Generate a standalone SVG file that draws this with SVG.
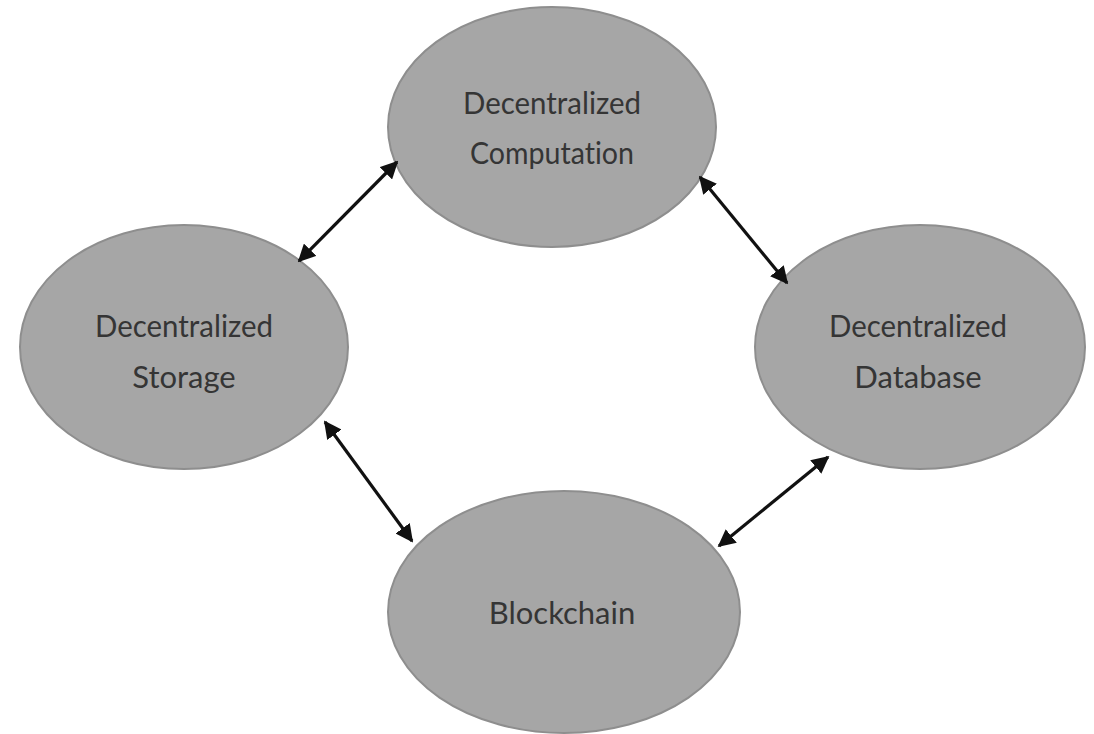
<svg xmlns="http://www.w3.org/2000/svg" width="1094" height="734" viewBox="0 0 1094 734">
  <style>
    .node ellipse { fill: #a6a6a6; stroke: #8e8e8e; stroke-width: 2; }
    .node text { font-family: "Lato", "Open Sans", "Liberation Sans", sans-serif; font-size: 31px; fill: #353535; text-anchor: middle; font-variant-ligatures: none; font-feature-settings: "liga" 0; }
    .link { stroke: #111; stroke-width: 3.2; fill: none; marker-start: url(#head); marker-end: url(#head); }
  </style>
  <defs>
    <marker id="head" viewBox="0 0 10 10" refX="9" refY="5" markerWidth="5.5" markerHeight="5.5" orient="auto-start-reverse" markerUnits="strokeWidth">
      <path d="M0,0 L10,5 L0,10 Z" fill="#111"/>
    </marker>
  </defs>
  <rect width="1094" height="734" fill="#ffffff"/>

  <g id="computation" class="node">
    <ellipse cx="552" cy="127" rx="164" ry="120"/>
    <text x="552" y="114" textLength="178" lengthAdjust="spacingAndGlyphs">Decentralized</text>
    <text x="552" y="164" textLength="164" lengthAdjust="spacingAndGlyphs">Computation</text>
  </g>

  <g id="storage" class="node">
    <ellipse cx="184" cy="347" rx="164" ry="122"/>
    <text x="184" y="337" textLength="178" lengthAdjust="spacingAndGlyphs">Decentralized</text>
    <text x="184" y="388">Storage</text>
  </g>

  <g id="database" class="node">
    <ellipse cx="920" cy="347" rx="165" ry="122"/>
    <text x="918" y="337" textLength="178" lengthAdjust="spacingAndGlyphs">Decentralized</text>
    <text x="918" y="388">Database</text>
  </g>

  <g id="blockchain" class="node">
    <ellipse cx="564" cy="612" rx="176" ry="121"/>
    <text x="562" y="624">Blockchain</text>
  </g>

  <g id="connectors">
    <line class="link" x1="299" y1="261" x2="397" y2="162"/>
    <line class="link" x1="700" y1="177" x2="787" y2="283"/>
    <line class="link" x1="325" y1="422" x2="412" y2="541"/>
    <line class="link" x1="719" y1="546" x2="828" y2="457"/>
  </g>
</svg>
